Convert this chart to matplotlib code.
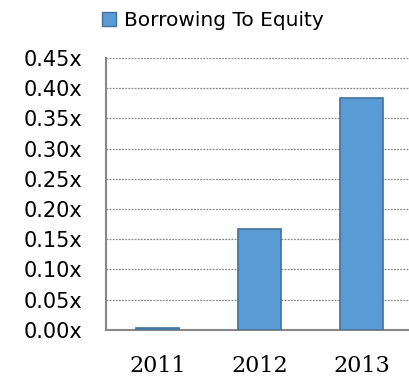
import matplotlib.pyplot as plt
from matplotlib.patches import Patch

years = ['2011', '2012', '2013']
borrowing_to_equity = [0.003, 0.167, 0.383]
y_ticks = [0.00, 0.05, 0.10, 0.15, 0.20, 0.25, 0.30, 0.35, 0.40, 0.45]

bar_color = '#5B9BD5'
edge_color = '#41719C'

fig = plt.figure(figsize=(4.09, 3.81), dpi=100)
ax = fig.add_axes([0.259, 0.134, 0.741, 0.714])

x = range(len(years))
ax.bar(x, borrowing_to_equity, width=0.42, color=bar_color,
       edgecolor=edge_color, linewidth=1.2, zorder=3)

ax.set_xlim(-0.505, 2.465)
ax.set_ylim(0, 0.45)
ax.set_yticks(y_ticks)
ax.set_yticklabels([f'{v:.2f}x' for v in y_ticks], fontsize=15,
                   family='DejaVu Sans')
ax.set_xticks(list(x))
ax.set_xticklabels(years, fontsize=16, family='DejaVu Serif', fontweight='medium')
ax.tick_params(axis='both', length=0)
ax.tick_params(axis='x', pad=18)
ax.tick_params(axis='y', pad=17)

ax.yaxis.grid(True, color='#8a8a8a', linestyle=(0, (1.5, 1)), linewidth=0.9, zorder=0)
for side in ['top', 'right']:
    ax.spines[side].set_visible(False)
for side in ['left', 'bottom']:
    ax.spines[side].set_color('#888888')
    ax.spines[side].set_linewidth(1.5)

handle = Patch(facecolor=bar_color, edgecolor=edge_color, linewidth=1)
fig.legend([handle], ['Borrowing To Equity'], loc='center',
           bbox_to_anchor=(0.52, 0.945), frameon=False, fontsize=14.5,
           handlelength=0.7, handleheight=0.7, handletextpad=0.4)

fig.savefig('out.png', dpi=100)
